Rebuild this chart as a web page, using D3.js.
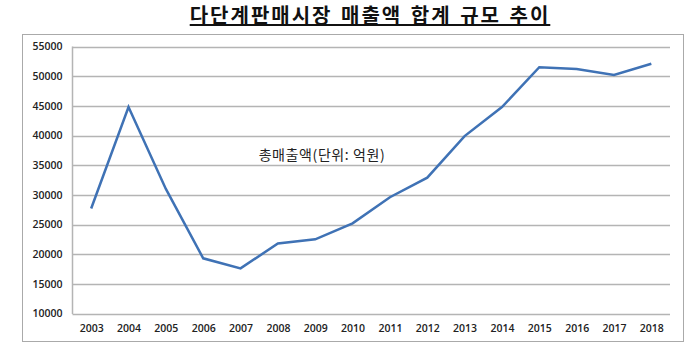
<!DOCTYPE html>
<html><head><meta charset="utf-8">
<script src="https://cdn.jsdelivr.net/npm/d3@7"></script>
<style>body{margin:0;background:#fff}svg{display:block}</style>
</head><body>
<svg id="c" width="700" height="357"></svg>
<script>
const years = ["2003","2004","2005","2006","2007","2008","2009","2010","2011","2012","2013","2014","2015","2016","2017","2018"];
const sales = [27700,44800,31000,19300,17600,21800,22500,25200,29600,32900,39900,44800,51500,51200,50200,52100];
const yTicks = [10000,15000,20000,25000,30000,35000,40000,45000,50000,55000];
const title = "다단계판매시장 매출액 합계 규모 추이";
const seriesLabel = "총매출액(단위: 억원)";

const svg = d3.select("#c");
const m = {l:72.5, r:670, t:46.5, b:313.5};
const x = d3.scalePoint().domain(years).range([m.l, m.r]).padding(0.5);
const y = d3.scaleLinear().domain([10000,55000]).range([m.b, m.t]);

// title
svg.append("text").attr("x", 370).attr("y", 23).attr("text-anchor","middle")
  .attr("font-family","'Noto Sans CJK KR'").attr("font-weight","bold").attr("font-size",20)
  .attr("letter-spacing",2).attr("word-spacing",2)
  .attr("fill","#111").attr("text-decoration","underline").text(title);

// outer box
svg.append("rect").attr("x",22.5).attr("y",34.5).attr("width",661).attr("height",307)
  .attr("fill","none").attr("stroke","#aaa").attr("stroke-width",1);

// gridlines
svg.append("g").selectAll("line").data(yTicks).join("line")
  .attr("x1",m.l).attr("x2",m.r).attr("y1",d=>Math.round(y(d))+0.5).attr("y2",d=>Math.round(y(d))+0.5)
  .attr("stroke","#b4b4b4").attr("stroke-width",1.5);
// left axis line
svg.append("line").attr("x1",m.l).attr("x2",m.l).attr("y1",m.t).attr("y2",m.b+0.5).attr("stroke","#b4b4b4").attr("stroke-width",1.5);

// y axis labels
const yAxis = d3.axisLeft(y).tickValues(yTicks).tickSize(0).tickPadding(10).tickFormat(d3.format("d"));
const ya = svg.append("g").attr("transform",`translate(${m.l},0)`).call(yAxis);
ya.select(".domain").remove();
ya.selectAll("text").attr("font-family","'Open Sans', sans-serif").attr("font-size",10.5).attr("font-weight",600).attr("fill","#222");

// x axis labels
const xAxis = d3.axisBottom(x).tickSize(0).tickPadding(11);
const xa = svg.append("g").attr("transform",`translate(0,${m.b})`).call(xAxis);
xa.select(".domain").remove();
xa.selectAll("text").attr("font-family","'Open Sans', sans-serif").attr("font-size",10.5).attr("font-weight",600).attr("fill","#222");

// line
const line = d3.line().x((d,i)=>x(years[i])).y(d=>y(d));
svg.append("path").datum(sales).attr("d",line).attr("fill","none")
  .attr("stroke","#3f72b5").attr("stroke-width",2.5).attr("stroke-linejoin","miter");

// series label
svg.append("text").attr("x",322).attr("y",160).attr("text-anchor","middle")
  .attr("font-family","'Noto Sans CJK KR'").attr("font-size",14).attr("letter-spacing",0.6)
  .attr("fill","#222").text(seriesLabel);
</script>
</body></html>
